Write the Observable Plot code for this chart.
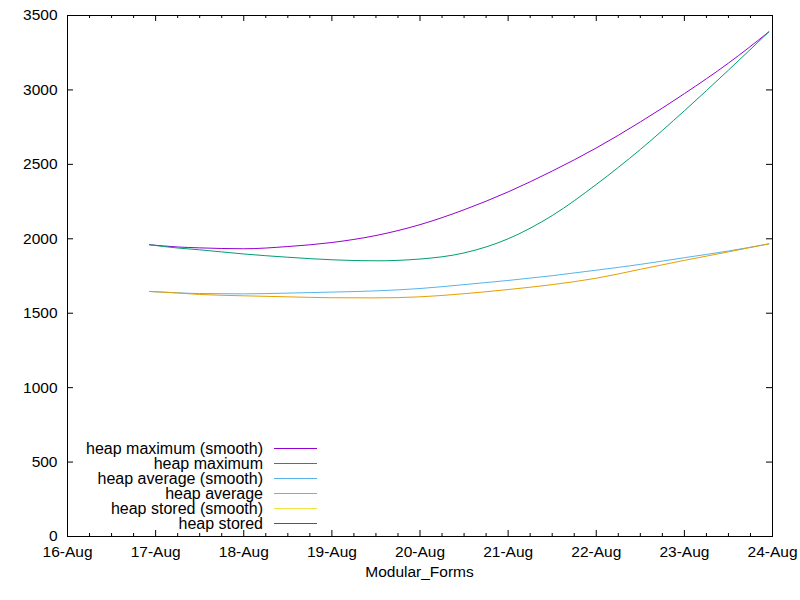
<!DOCTYPE html>
<html><head><meta charset="utf-8">
<script src="https://cdn.jsdelivr.net/npm/d3@7"></script>
<script src="https://cdn.jsdelivr.net/npm/@observablehq/plot@0.6"></script>
<style>body{margin:0;background:#fff} svg{display:block}</style>
</head><body><div id="chart"></div>
<script>
// ---- data ----
const times = ["2021-08-16T22:20Z","2021-08-17T06:00Z","2021-08-17T12:00Z","2021-08-18T00:00Z","2021-08-18T12:00Z","2021-08-19T00:00Z","2021-08-19T12:00Z","2021-08-20T00:00Z","2021-08-20T12:00Z","2021-08-21T00:00Z","2021-08-21T12:00Z","2021-08-22T00:00Z","2021-08-22T12:00Z","2021-08-23T00:00Z","2021-08-23T12:00Z","2021-08-23T23:00Z"];
const heapMaxSmooth = [1960,1945,1939,1933,1948,1975,2022,2095,2195,2315,2455,2610,2785,2975,3180,3390];
const heapMax       = [1960,1938,1926,1898,1876,1859,1852,1864,1905,2000,2156,2365,2600,2860,3133,3390];
const heapAvgSmooth = [1646,1637,1632,1630,1635,1642,1650,1666,1692,1720,1752,1789,1828,1873,1918,1966];
const heapAvg       = [1646,1636,1626,1617,1610,1604,1603,1610,1631,1659,1692,1735,1795,1855,1912,1966];
const heapStoredSmooth = [];
const heapStored       = [];
const seriesNames  = ["heap maximum (smooth)","heap maximum","heap average (smooth)","heap average","heap stored (smooth)","heap stored"];
const seriesColors = ["#9400d3","#009e73","#56b4e9","#e69f00","#f0e442","#0072b2"];
const seriesValues = [heapMaxSmooth, heapMax, heapAvgSmooth, heapAvg, heapStoredSmooth, heapStored];
const xTickLabels = ["2021-08-16","2021-08-17","2021-08-18","2021-08-19","2021-08-20","2021-08-21","2021-08-22","2021-08-23","2021-08-24"];
const yTicks = [0,500,1000,1500,2000,2500,3000,3500];
const xLabel = "Modular_Forms";

// ---- layout ----
const W = 800, H = 600, mL = 67, mR = 28, mT = 15, mB = 64;
const pw = W - mL - mR, ph = H - mT - mB;
const FONT = "'Liberation Sans', Arial, Helvetica, sans-serif";
const FS = 15.5;
const LFS = 16;

const xTicks = xTickLabels.map(d => new Date(d + "T00:00Z"));
const xMinor = d3.utcHour.every(6).range(xTicks[0], xTicks[xTicks.length - 1]).filter(d => d.getUTCHours() !== 0);

const rows = seriesNames.flatMap((name, k) =>
  seriesValues[k].map((v, i) => ({name, k, t: new Date(times[i]), v})));

const lineMarks = seriesNames.map((name, k) =>
  Plot.line(rows.filter(r => r.k === k), {x: "t", y: "v", stroke: seriesColors[k], strokeWidth: 1, curve: "monotone-x"}));

const plot = Plot.plot({
  width: W, height: H,
  marginLeft: mL, marginRight: mR, marginTop: mT, marginBottom: mB,
  style: {fontFamily: FONT, fontSize: FS + "px", background: "#fff", color: "#000", overflow: "visible"},
  x: {type: "utc", domain: [xTicks[0], xTicks[xTicks.length - 1]]},
  y: {domain: [0, 3500]},
  marks: [
    Plot.axisX(xTicks, {tickSize: 0, tickPadding: 9, tickFormat: d3.utcFormat("%d-%b"), label: null, fontSize: FS}),
    Plot.axisY(yTicks, {tickSize: 0, tickPadding: 10, tickFormat: d => String(d), label: null, fontSize: FS}),
    // inward major ticks, bottom & top
    Plot.ruleX(xTicks, {x: d => d, insetTop: ph - 6, stroke: "#000"}),
    Plot.ruleX(xTicks, {x: d => d, insetBottom: ph - 6, stroke: "#000"}),
    // inward minor ticks
    Plot.ruleX(xMinor, {x: d => d, insetTop: ph - 3, stroke: "#000"}),
    Plot.ruleX(xMinor, {x: d => d, insetBottom: ph - 3, stroke: "#000"}),
    // inward y ticks left & right
    Plot.ruleY(yTicks, {y: d => d, insetRight: pw - 6, stroke: "#000"}),
    Plot.ruleY(yTicks, {y: d => d, insetLeft: pw - 6, stroke: "#000"}),
    ...lineMarks,
    Plot.frame({stroke: "#000", strokeWidth: 1})
  ]
});

document.getElementById("chart").appendChild(plot);

// ---- x label and legend ----
const svg = d3.select(plot);
const xr = plot.scale("x").range;
svg.append("text")
  .attr("x", (xr[0] + xr[1]) / 2).attr("y", H - 23)
  .attr("text-anchor", "middle")
  .attr("font-family", FONT).attr("font-size", FS).attr("fill", "#000")
  .text(xLabel);

const lg = svg.append("g").attr("font-family", FONT).attr("font-size", LFS);
seriesNames.forEach((name, k) => {
  const yy = 448 + k * 15;
  lg.append("text").attr("x", 263).attr("y", yy).attr("dy", "0.35em")
    .attr("text-anchor", "end").attr("fill", "#000").text(name);
  lg.append("line").attr("x1", 274).attr("x2", 317).attr("y1", yy + 0.5).attr("y2", yy + 0.5)
    .attr("stroke", seriesColors[k]).attr("stroke-width", 1);
});
</script>
</body></html>
